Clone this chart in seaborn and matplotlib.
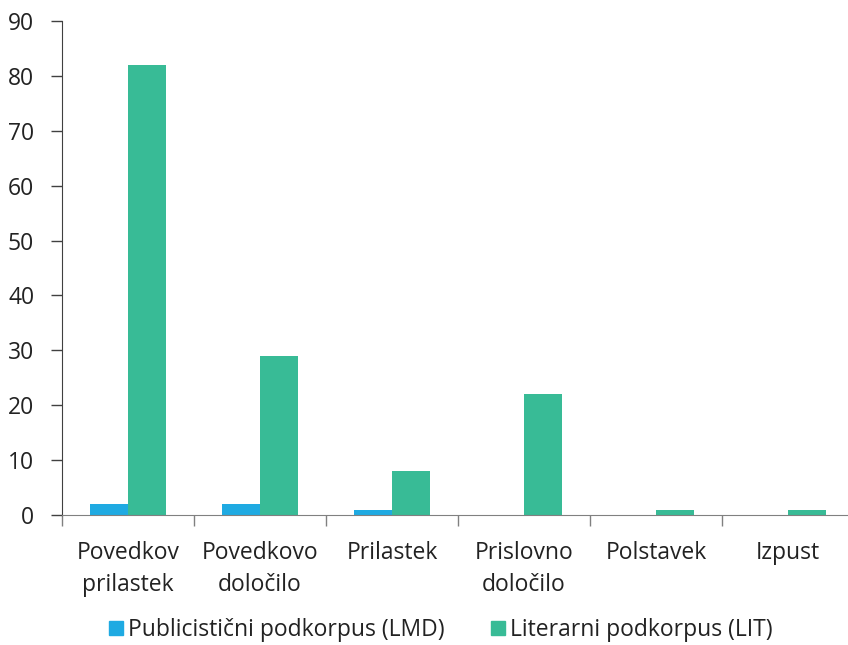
import pandas as pd
import matplotlib.pyplot as plt
import seaborn as sns

# Data
categories = ["Povedkov\nprilastek", "Povedkovo\ndoločilo", "Prilastek",
              "Prislovno\ndoločilo", "Polstavek", "Izpust"]
lmd_values = [2, 2, 1, 0, 0, 0]
lit_values = [82, 29, 8, 22, 1, 1]
series_names = ["Publicistični podkorpus (LMD)", "Literarni podkorpus (LIT)"]
colors = ["#1FAAE2", "#38BB96"]

df = pd.DataFrame({
    "Kategorija": categories * 2,
    "Vrednost": lmd_values + lit_values,
    "Podkorpus": [series_names[0]] * len(categories) + [series_names[1]] * len(categories),
})

sns.set_style("white")
plt.rcParams['font.family'] = ['Open Sans', 'DejaVu Sans']

fig = plt.figure(figsize=(8.48, 6.45), dpi=100)
ax = fig.add_axes([62 / 848, 1 - 515 / 645, 792 / 848, 494 / 645])

sns.barplot(data=df, x="Kategorija", y="Vrednost", hue="Podkorpus",
            palette=colors, width=0.57, gap=0, ax=ax, legend=False,
            saturation=1, linewidth=0)

ax.set_ylim(0, 90)
ax.set_xlim(-0.5, len(categories) - 0.5)
ax.set_yticks(range(0, 91, 10))
ax.set_xlabel("")
ax.set_ylabel("")

for s in ["top", "right"]:
    ax.spines[s].set_visible(False)
ax.spines["left"].set_color("#404040")
ax.spines["bottom"].set_color("#808080")

ax.tick_params(axis="y", direction="out", length=8, width=1, color="#404040",
               labelsize=16.5, pad=12, labelcolor="#222222", left=True)
ax.tick_params(axis="x", which="major", length=0, labelsize=16.5, pad=19,
               labelcolor="#222222")
ax.set_xticks([i - 0.5 for i in range(len(categories) + 1)], minor=True)
ax.tick_params(axis="x", which="minor", direction="out", length=8, width=1,
               color="#808080", bottom=True)
for lbl in ax.get_xticklabels():
    lbl.set_linespacing(1.45)

handles = [plt.Rectangle((0, 0), 1, 1, color=c) for c in colors]
fig.legend(handles, series_names, loc="center", ncol=2,
           bbox_to_anchor=(0.52, 1 - 630 / 645), frameon=False,
           fontsize=16.5, handlelength=0.6, handleheight=0.6,
           handletextpad=0.25, columnspacing=2.0, labelcolor="#222222")

fig.savefig("out.png", dpi=100)
